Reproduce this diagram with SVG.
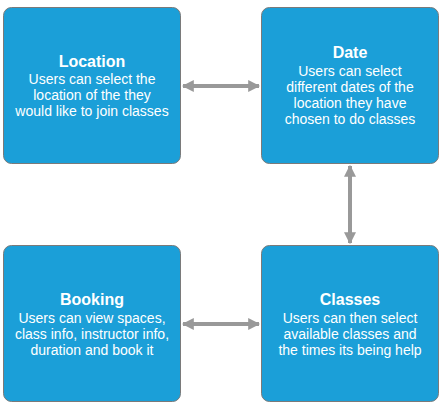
<svg xmlns="http://www.w3.org/2000/svg" width="439" height="403" viewBox="0 0 439 403">
<style>
.box{fill:#1b9fd8;stroke:#7a7a7a;stroke-width:1}
.t{font-family:"Liberation Sans",Arial,sans-serif;fill:#fff;text-anchor:middle}
.h{font-size:16px;font-weight:bold}
.b{font-size:14px}
.c{stroke:#999;stroke-width:4;fill:none}
</style>
<defs>
<marker id="ah" viewBox="0 0 10 10" refX="9" refY="5" markerWidth="3" markerHeight="3.5" orient="auto-start-reverse" markerUnits="strokeWidth">
<path d="M0,0 L10,5 L0,10 z" fill="#999"/>
</marker>
</defs>
<g id="connectors">
<line class="c" x1="183" y1="86" x2="259" y2="86" marker-start="url(#ah)" marker-end="url(#ah)"/>
<line class="c" x1="350" y1="166" x2="350" y2="243" marker-start="url(#ah)" marker-end="url(#ah)"/>
<line class="c" x1="183" y1="324" x2="259" y2="324" marker-start="url(#ah)" marker-end="url(#ah)"/>
</g>
<g id="location">
<rect class="box" x="3.5" y="7.5" width="177" height="156" rx="8"/>
<text class="t h" x="92" y="67">Location</text>
<text class="t b" x="92" y="84">Users can select the</text>
<text class="t b" x="92" y="100">location of the they</text>
<text class="t b" x="92" y="116">would like to join classes</text>
</g>
<g id="date">
<rect class="box" x="261.5" y="7.5" width="177" height="156" rx="8"/>
<text class="t h" x="350" y="58">Date</text>
<text class="t b" x="350" y="76">Users can select</text>
<text class="t b" x="350" y="92">different dates of the</text>
<text class="t b" x="350" y="108">location they have</text>
<text class="t b" x="350" y="124">chosen to do classes</text>
</g>
<g id="booking">
<rect class="box" x="3.5" y="245.5" width="177" height="156" rx="8"/>
<text class="t h" x="92" y="305">Booking</text>
<text class="t b" x="92" y="323">Users can view spaces,</text>
<text class="t b" x="92" y="339">class info, instructor info,</text>
<text class="t b" x="92" y="355">duration and book it</text>
</g>
<g id="classes">
<rect class="box" x="261.5" y="245.5" width="177" height="156" rx="8"/>
<text class="t h" x="350" y="305">Classes</text>
<text class="t b" x="350" y="323">Users can then select</text>
<text class="t b" x="350" y="339">available classes and</text>
<text class="t b" x="350" y="355">the times its being help</text>
</g>
</svg>
